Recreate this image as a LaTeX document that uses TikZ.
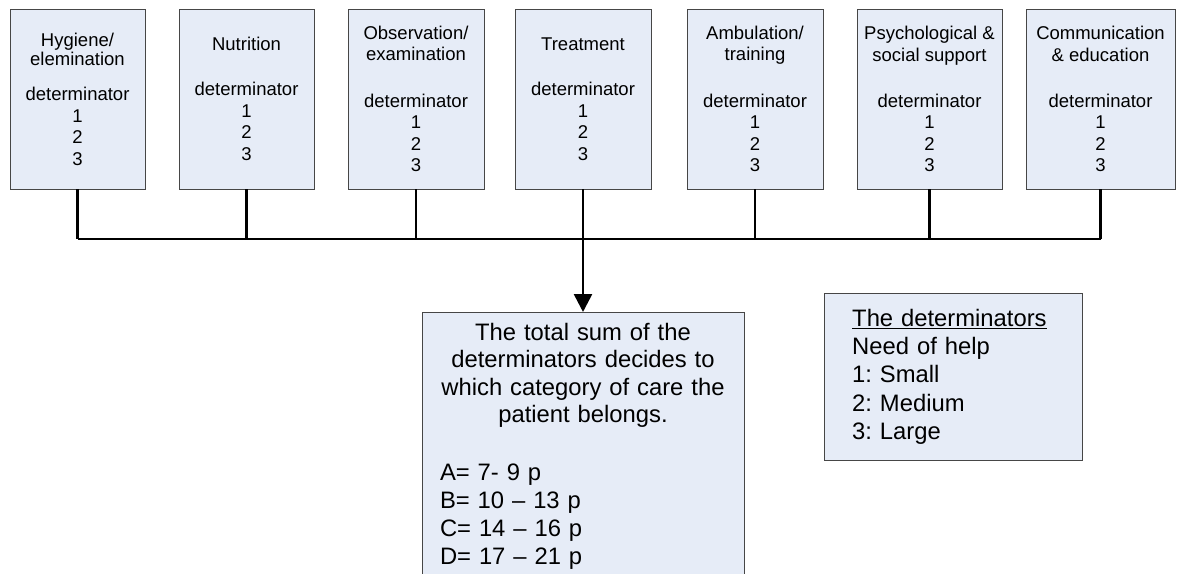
\documentclass[tikz,border=0pt]{standalone}
\usepackage{fontspec}
\setmainfont{Liberation Sans}
\frenchspacing
\usetikzlibrary{arrows.meta}
\definecolor{boxblue}{RGB}{230,236,247}
\definecolor{boxline}{RGB}{70,70,70}

\begin{document}
\begin{tikzpicture}[x=1pt, y=-1pt,
  catbox/.style={draw=boxline,fill=boxblue,align=center,minimum height=180pt,inner sep=0pt,font=\fontsize{18.5}{21.5}\selectfont},
  bigbox/.style={draw=boxline,fill=boxblue,font=\fontsize{23.8}{27.4}\selectfont},
  link/.style={line width=2.6pt}]
\clip (0,0) rectangle (1183,573);

\node[catbox,minimum width=135pt] at (77.5,99)(hyg) {Hygiene/\\[-2pt]elemination\\[13.5pt]determinator\\1\\2\\3};
\node[catbox,minimum width=135pt] at (246.5,99)(nut) {Nutrition\\[23.5pt]determinator\\1\\2\\3};
\node[catbox,minimum width=136pt] at (416,99)(obs) {Observation/\\[-1pt]examination\\[25.5pt]determinator\\1\\2\\3};
\node[catbox,minimum width=136pt] at (583,99)(trt) {Treatment\\[23.5pt]determinator\\1\\2\\3};
\node[catbox,minimum width=136pt] at (755,99)(amb) {Ambulation/\\[-1pt]training\\[25.5pt]determinator\\1\\2\\3};
\node[catbox,minimum width=145pt] at (929.5,99)(psy) {Psychological \&\\social support\\[24.5pt]determinator\\1\\2\\3};
\node[catbox,minimum width=149pt] at (1100.5,99)(com) {Communication\\\& education\\[24.5pt]determinator\\1\\2\\3};

\coordinate (bus) at (583,239);

\node[bigbox,anchor=north,minimum width=322pt,text width=286pt,inner xsep=18pt,inner ysep=11pt,text depth=260pt] at (583,312)(sum)
  {\centering The total sum of the\\determinators decides to\\which category of care the\\patient belongs.\par\vspace{30pt}
   \raggedright\fontsize{23.8}{28}\selectfont A= 7- 9 p\\B= 10 -- 13 p\\C= 14 -- 16 p\\D= 17 -- 21 p\par};

\node[bigbox,anchor=north west,minimum width=258pt,minimum height=167pt,text width=202pt,inner xsep=28pt,align=left,font=\fontsize{23.8}{28.2}\selectfont] at (824,293)(key)
  {\underline{The determinators}\\Need of help\\1: Small\\2: Medium\\3: Large};

% stems down to the bus
\draw[link] (hyg.south) -- (hyg.south |- bus);
\draw[link] (nut.south) -- (nut.south |- bus);
\draw[link] (obs.south) -- (obs.south |- bus);
\draw[link] (amb.south) -- (amb.south |- bus);
\draw[link] (psy.south) -- (psy.south |- bus);
\draw[link] (com.south) -- (com.south |- bus);
\draw[link] (hyg.south |- bus) -- (com.south |- bus);
\draw[link,-{Triangle[width=18pt,length=18pt]}] (trt.south) -- (sum.north);

\end{tikzpicture}
\end{document}
